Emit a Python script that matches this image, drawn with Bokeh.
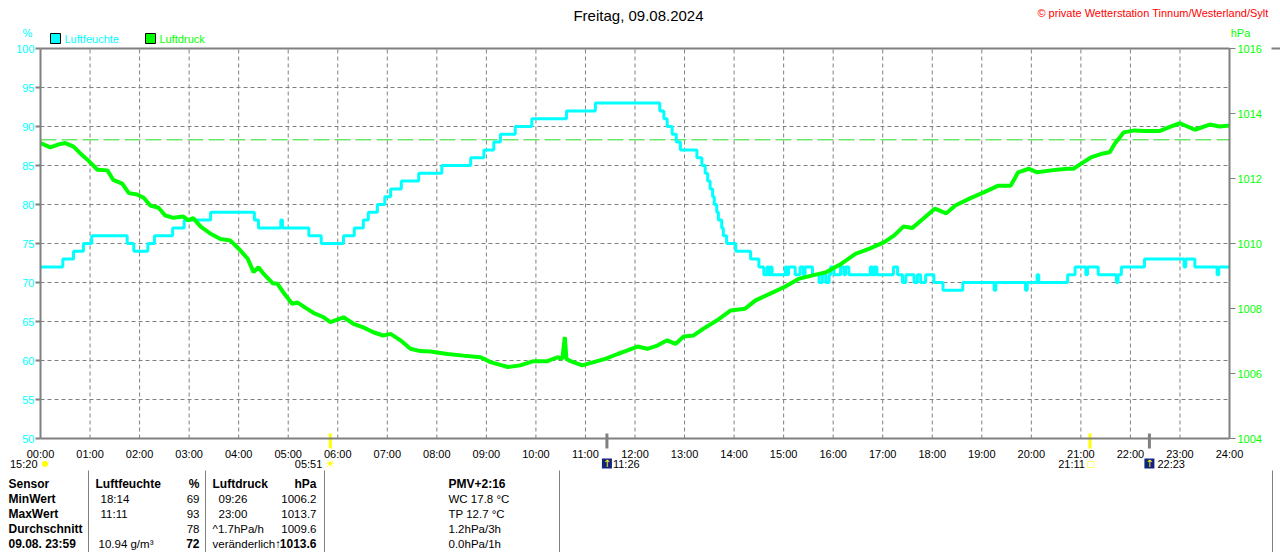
from bokeh.plotting import figure
from bokeh.models import Range1d, LinearAxis, FixedTicker, ColumnDataSource
from bokeh.embed import file_html
from bokeh.resources import INLINE
from bokeh.core.properties import value

# ---------------- data ----------------
TITLE = "Freitag, 09.08.2024"
COPYRIGHT = "\u00a9 private Wetterstation Tinnum/Westerland/Sylt"
SERIES = ["Luftfeuchte", "Luftdruck"]
UNITS = ["%", "hPa"]

# humidity (%) change points: minutes after midnight -> value
hum_t = [0, 27, 40, 52, 62, 105, 113, 130, 138, 160, 174, 206, 259, 264, 291, 293,
         325, 340, 367, 380, 391, 397, 408, 417, 424, 437, 458, 486, 521, 537, 549,
         557, 575, 595, 637, 672, 750, 755, 759, 765, 770, 775, 795, 801, 805, 808,
         811, 814, 816, 819, 821, 825, 827, 831, 842, 860, 870, 876, 880, 882, 884,
         886, 902, 904, 906, 914, 920, 924, 926, 935, 943, 947, 951, 955, 957, 961,
         969, 973, 975, 979, 1005, 1008, 1010, 1013, 1033, 1038, 1044, 1048, 1058,
         1062, 1066, 1072, 1082, 1093, 1117, 1155, 1157, 1193, 1195, 1207, 1209,
         1244, 1253, 1266, 1268, 1281, 1303, 1305, 1309, 1337, 1385, 1387, 1398,
         1425, 1427, 1440]
hum_v = [72, 73, 74, 75, 76, 75, 74, 75, 76, 77, 78, 79, 78, 77, 78, 77,
         76, 75, 76, 77, 78, 79, 80, 81, 82, 83, 84, 85, 86, 87, 88,
         89, 90, 91, 92, 93, 92, 91, 90, 89, 88, 87, 86, 85, 84, 83,
         82, 81, 80, 79, 78, 77, 76, 75, 74, 73, 72, 71, 72, 71, 72,
         71, 72, 71, 72, 71, 72, 71, 72, 71, 70, 71, 70, 71, 72, 71,
         72, 71, 72, 71, 72, 71, 72, 71, 72, 71, 70, 71, 70,
         71, 70, 71, 70, 69, 70, 69, 70, 69, 70, 71, 70,
         71, 72, 71, 72, 71, 70, 71, 72, 73, 72, 73, 72,
         71, 72, 72]

# air pressure (hPa): minutes after midnight -> value
press_t = [0, 12, 22, 30, 40, 48, 58, 69, 81, 88, 99, 107, 117, 125, 133, 143, 151,
           161, 173, 179, 185, 194, 206, 218, 230, 240, 251, 258, 264, 270, 281, 287,
           294, 305, 311, 323, 331, 343, 351, 367, 379, 391, 403, 415, 424, 436, 448,
           460, 472, 493, 512, 533, 545, 566, 581, 597, 614, 626, 632, 635, 637, 642,
           656, 670, 684, 699, 711, 723, 735, 747, 759, 769, 779, 791, 803, 819, 836,
           853, 866, 883, 901, 918, 935, 952, 970, 987, 1004, 1022, 1034, 1045, 1056,
           1069, 1083, 1097, 1108, 1125, 1143, 1160, 1175, 1184, 1197, 1207, 1224,
           1243, 1251, 1260, 1273, 1285, 1295, 1301, 1312, 1325, 1337, 1355, 1367,
           1380, 1398, 1416, 1428, 1440]
press_v = [1013.09, 1012.96, 1013.05, 1013.09, 1012.98, 1012.78, 1012.55, 1012.27,
           1012.25, 1011.96, 1011.84, 1011.55, 1011.51, 1011.41, 1011.17, 1011.10,
           1010.86, 1010.79, 1010.83, 1010.71, 1010.78, 1010.52, 1010.30, 1010.14,
           1010.09, 1009.84, 1009.53, 1009.12, 1009.27, 1009.07, 1008.78, 1008.76,
           1008.50, 1008.14, 1008.19, 1007.99, 1007.86, 1007.73, 1007.58, 1007.73,
           1007.53, 1007.42, 1007.27, 1007.17, 1007.22, 1007.02, 1006.76, 1006.69,
           1006.68, 1006.60, 1006.55, 1006.50, 1006.35, 1006.20, 1006.25, 1006.38,
           1006.38, 1006.50, 1006.45, 1007.12, 1006.45, 1006.38, 1006.25, 1006.35,
           1006.45, 1006.60, 1006.71, 1006.83, 1006.76, 1006.86, 1007.02, 1006.91,
           1007.14, 1007.17, 1007.38, 1007.63, 1007.94, 1007.99, 1008.25, 1008.45,
           1008.66, 1008.91, 1009.02, 1009.12, 1009.38, 1009.68, 1009.84, 1010.04,
           1010.25, 1010.52, 1010.48, 1010.76, 1011.07, 1010.93, 1011.17, 1011.38,
           1011.58, 1011.78, 1011.78, 1012.19, 1012.30, 1012.19, 1012.25, 1012.30,
           1012.30, 1012.45, 1012.66, 1012.76, 1012.81, 1013.07, 1013.42, 1013.48,
           1013.46, 1013.46, 1013.58, 1013.70, 1013.50, 1013.66, 1013.60, 1013.63]
ref_pressure = 1013.19

left_ticks = [50, 55, 60, 65, 70, 75, 80, 85, 90, 95, 100]
right_ticks = [1004, 1006, 1008, 1010, 1012, 1014, 1016]
hour_ticks = [0, 60, 120, 180, 240, 300, 360, 420, 480, 540, 600, 660, 720, 780, 840,
              900, 960, 1020, 1080, 1140, 1200, 1260, 1320, 1380, 1440]
hour_labels = ["00:00", "01:00", "02:00", "03:00", "04:00", "05:00", "06:00", "07:00",
               "08:00", "09:00", "10:00", "11:00", "12:00", "13:00", "14:00", "15:00",
               "16:00", "17:00", "18:00", "19:00", "20:00", "21:00", "22:00", "23:00",
               "24:00"]

sun_t = [351, 1271]
sun_labels = ["05:51", "21:11"]
moon_t = [686, 1343]
moon_labels = ["11:26", "22:23"]
prev_moon_label = "15:20"

table_header = ["Sensor", "Luftfeuchte", "%", "Luftdruck", "hPa", "PMV+2:16"]
row_labels = ["MinWert", "MaxWert", "Durchschnitt", "09.08.  23:59"]
hum_time = ["18:14", "11:11", "", "10.94 g/m\u00b3"]
hum_val = ["69", "93", "78", "72"]
press_time = ["09:26", "23:00", "^1.7hPa/h", "ver\u00e4nderlich\u2191"]
press_val = ["1006.2", "1013.7", "1009.6", "1013.6"]
extra_info = ["WC 17.8 \u00b0C", "TP 12.7 \u00b0C", "1.2hPa/3h", "0.0hPa/1h"]

# ---------------- geometry / styles ----------------
CYAN = "#00FFFF"
GREEN = "#00FF00"
GRAY = "#808080"
YELLOW = "#FFFF00"
FONT = "Liberation Sans"
W, H = 1280, 552
FL, FR, FT, FB = 40, 1229, 48, 438      # chart area edges (page pixels)

ppm = (FR - FL) / 1440.0
x_start, x_end = -FL / ppm, (W - FL) / ppm
ph = (FB - FT) / 50.0
y_top, y_bot = 100 + FT / ph, 50 - (H - FB) / ph
pp = (FB - FT) / 12.0
p_top, p_bot = 1016 + FT / pp, 1004 - (H - FB) / pp

p = figure(width=W, height=H, title=None, x_range=Range1d(x_start, x_end),
           y_range=Range1d(y_bot, y_top), output_backend="svg", toolbar_location=None,
           min_border=0)
p.extra_y_ranges = {"p": Range1d(p_bot, p_top), "py": Range1d(H, 0)}
p.extra_x_ranges = {"px": Range1d(0, W)}
p.outline_line_color = None
p.background_fill_color = "white"
p.border_fill_color = "white"
p.xgrid.visible = False
p.ygrid.visible = False

# ---- axes (fixed at the chart edges) ----
ya = p.left[0]
ya.fixed_location = 0
ya.bounds = (50, 100)
ya.ticker = FixedTicker(ticks=left_ticks)
ya.axis_line_color = GRAY
ya.axis_line_width = 2
ya.major_tick_out = 5
ya.major_tick_in = 0
ya.minor_tick_line_color = None
ya.major_tick_line_color = GRAY
ya.major_tick_line_width = 2
ya.major_label_standoff = 1
ya.major_label_text_color = CYAN
ya.major_label_text_font = FONT
ya.major_label_text_font_size = "11px"

xa = p.below[0]
xa.fixed_location = 50
xa.bounds = (0, 1440)
xa.ticker = FixedTicker(ticks=hour_ticks)
xa.major_label_overrides = {t: l for t, l in zip(hour_ticks, hour_labels)}
xa.axis_line_color = GRAY
xa.axis_line_width = 2
xa.major_tick_out = 0
xa.major_tick_in = 0
xa.minor_tick_line_color = None
xa.major_label_standoff = 9
xa.major_label_text_color = "black"
xa.major_label_text_font = FONT
xa.major_label_text_font_size = "11px"

ra = LinearAxis(y_range_name="p", fixed_location=1440, bounds=(1004, 1016),
                ticker=FixedTicker(ticks=right_ticks))
ra.axis_line_color = GRAY
ra.axis_line_width = 2
ra.major_tick_out = 6
ra.major_tick_in = 0
ra.minor_tick_line_color = None
ra.major_tick_line_color = GRAY
ra.major_label_standoff = 2
ra.major_label_text_color = GREEN
ra.major_label_text_font = FONT
ra.major_label_text_font_size = "11px"
p.add_layout(ra, "right")

ta = LinearAxis(fixed_location=100, bounds=(0, 1440), ticker=FixedTicker(ticks=[]))
ta.axis_line_color = GRAY
ta.axis_line_width = 2
ta.major_tick_line_color = None
ta.minor_tick_line_color = None
ta.major_label_text_font_size = "0px"
p.add_layout(ta, "above")
# continuation of the top border line beyond the right-axis label
p.segment(x0=[1271], y0=[FT], x1=[W], y1=[FT], x_range_name="px", y_range_name="py",
          line_color=GRAY, line_width=2)

# ---- dashed grid ----
inner_h = hour_ticks[1:-1]
inner_y = left_ticks[1:-1]
p.segment(x0=inner_h, y0=[left_ticks[0]] * len(inner_h), x1=inner_h,
          y1=[left_ticks[-1]] * len(inner_h), line_color=GRAY, line_dash="4 3",
          line_width=1)
p.segment(x0=[hour_ticks[0]] * len(inner_y), y0=inner_y,
          x1=[hour_ticks[-1]] * len(inner_y), y1=inner_y, line_color=GRAY,
          line_dash="4 3", line_width=1)

# reference pressure line
p.line(x=[hour_ticks[0], hour_ticks[-1]], y=[ref_pressure, ref_pressure],
       y_range_name="p", line_color="#22DD22", line_dash="16 5", line_width=1)

# ---- series ----
p.step(x=hum_t, y=hum_v, mode="after", line_color=CYAN, line_width=3)
p.line(x=press_t, y=press_v, y_range_name="p", line_color=GREEN, line_width=4)

# ---- header texts (page pixel coordinates) ----
hdr = ColumnDataSource(dict(
    x=[638, 1268, 27, 1240, 64, 159],
    y=[15, 12, 32, 32, 38, 38],
    text=[TITLE, COPYRIGHT, UNITS[0], UNITS[1], SERIES[0], SERIES[1]],
    align=["center", "right", "center", "center", "left", "left"],
    color=["black", "#FF0000", CYAN, GREEN, CYAN, GREEN],
    size=["15px", "11px", "11px", "11px", "11px", "11px"],
))
p.text(x="x", y="y", text="text", source=hdr, x_range_name="px", y_range_name="py",
       text_align="align", text_baseline="middle", text_color="color",
       text_font=value(FONT), text_font_size="size")
p.rect(x=[55, 150], y=[38, 38], width=10, height=10, x_range_name="px",
       y_range_name="py", fill_color=[CYAN, GREEN], line_color="black", line_width=1)

# ---- sun / moon events ----
p.segment(x0=sun_t, y0=[433] * 2, x1=sun_t, y1=[448] * 2, y_range_name="py",
          line_color=YELLOW, line_width=3)
p.segment(x0=moon_t, y0=[433] * 2, x1=moon_t, y1=[448] * 2, y_range_name="py",
          line_color=GRAY, line_width=3)
p.rect(x=moon_t, y=[463] * 2, width=10, height=10, width_units="screen",
       height_units="screen", y_range_name="py", fill_color="#14247E", line_color=None)
ev = ColumnDataSource(dict(
    x=[0, 0, sun_t[0], sun_t[0], sun_t[1], sun_t[1], moon_t[0], moon_t[0], moon_t[1],
       moon_t[1]],
    off=[-3, 5, -8, 0, -5, 1, 0, 6, 0, 8],
    text=[prev_moon_label, "\u25cf", sun_labels[0], "\u2600", sun_labels[1], "\u25a1",
          "\u2191", moon_labels[0], "\u2191", moon_labels[1]],
    align=["right", "center", "right", "center", "right", "center", "center", "left",
           "center", "left"],
    color=["black", YELLOW, "black", YELLOW, "black", YELLOW, YELLOW, "black", YELLOW,
           "black"],
    font=[FONT, "DejaVu Sans", FONT, "DejaVu Sans", FONT, "DejaVu Sans", "DejaVu Sans",
          FONT, "DejaVu Sans", FONT],
    size=["11px", "8px", "11px", "12px", "11px", "9px", "10px", "11px", "10px", "11px"],
))
ev.data["y"] = [463] * len(ev.data["x"])
p.text(x="x", y="y", text="text", source=ev, y_range_name="py", x_offset="off",
       text_align="align", text_baseline="middle", text_color="color",
       text_font="font", text_font_size="size")

# ---- table ----
col_x = [88, 205, 324, 559, 1272]
p.segment(x0=col_x, y0=[470] * len(col_x), x1=col_x, y1=[H] * len(col_x),
          x_range_name="px", y_range_name="py", line_color=GRAY, line_width=1)

row_y = [483, 498, 513, 528, 543]
tx, ty, tt, tal, tb, ts = [], [], [], [], [], []

def add(x, y, t, a, b):
    tx.append(x); ty.append(y); tt.append(t); tal.append(a); tb.append(b)
    ts.append("12px" if b == "bold" else "11.5px")

hx = [8, 95, 199, 212, 316, 448]
ha = ["left", "left", "right", "left", "right", "left"]
for x, t, a in zip(hx, table_header, ha):
    add(x, row_y[0], t, a, "bold")
for i in range(4):
    y = row_y[i + 1]
    add(8, y, row_labels[i], "left", "bold")
    add(100 if i < 3 else 98, y, hum_time[i], "left", "normal")
    add(199, y, hum_val[i], "right", "bold" if i == 3 else "normal")
    add(218 if i < 2 else 212, y, press_time[i], "left", "normal")
    add(316, y, press_val[i], "right", "bold" if i == 3 else "normal")
    add(448, y, extra_info[i], "left", "normal")

tsrc = ColumnDataSource(dict(x=tx, y=ty, text=tt, align=tal, bold=tb, size=ts))
r = p.text(x="x", y="y", text="text", source=tsrc, x_range_name="px", y_range_name="py",
           text_align="align", text_baseline="middle", text_font=value(FONT),
           text_font_size="size", text_color="black")
r.glyph.text_font_style = {"field": "bold"}

open("out.html", "w").write(file_html(p, INLINE))
